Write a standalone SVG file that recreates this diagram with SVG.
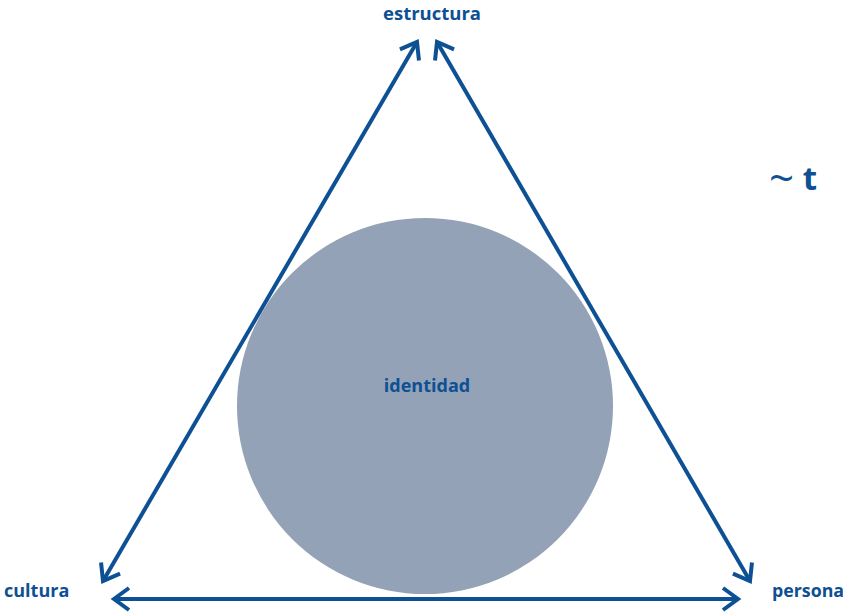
<svg xmlns="http://www.w3.org/2000/svg" width="843" height="615" viewBox="0 0 843 615">
<style>
.t{font-family:"Open Sans","Noto Sans",sans-serif;font-weight:bold;fill:#0d5093}
.l{stroke:#0d5093;stroke-width:4;fill:none}
</style>
<defs>
<marker id="a" markerUnits="userSpaceOnUse" markerWidth="30" markerHeight="30" refX="0" refY="0" viewBox="-20 -15 25 30" orient="auto-start-reverse">
<path d="M-15,-11 L0,0 L-15,11" fill="none" stroke="#0d5093" stroke-width="4" stroke-linecap="butt"/>
</marker>
</defs>
<rect width="843" height="615" fill="#fff"/>
<g id="identidad">
<circle cx="425" cy="406" r="188" fill="#94a2b7"/>
<text class="t" x="427" y="392" font-size="18" text-anchor="middle">identidad</text>
</g>
<g id="connectors">
<line class="l" x1="103" y1="581" x2="417" y2="42" marker-start="url(#a)" marker-end="url(#a)"/>
<line class="l" x1="437" y1="42" x2="750" y2="581" marker-start="url(#a)" marker-end="url(#a)"/>
<line class="l" x1="114" y1="599" x2="738" y2="599" marker-start="url(#a)" marker-end="url(#a)"/>
</g>
<g id="estructura"><text class="t" x="432" y="20" font-size="18.5" text-anchor="middle">estructura</text></g>
<g id="cultura"><text class="t" x="4" y="597" font-size="18">cultura</text></g>
<g id="persona"><text class="t" x="772" y="597" font-size="17.8">persona</text></g>
<g id="t"><text class="t" x="769" y="190" font-size="33"><tspan font-size="44" font-weight="normal" dy="4">~</tspan><tspan dy="-4"> t</tspan></text></g>
</svg>
